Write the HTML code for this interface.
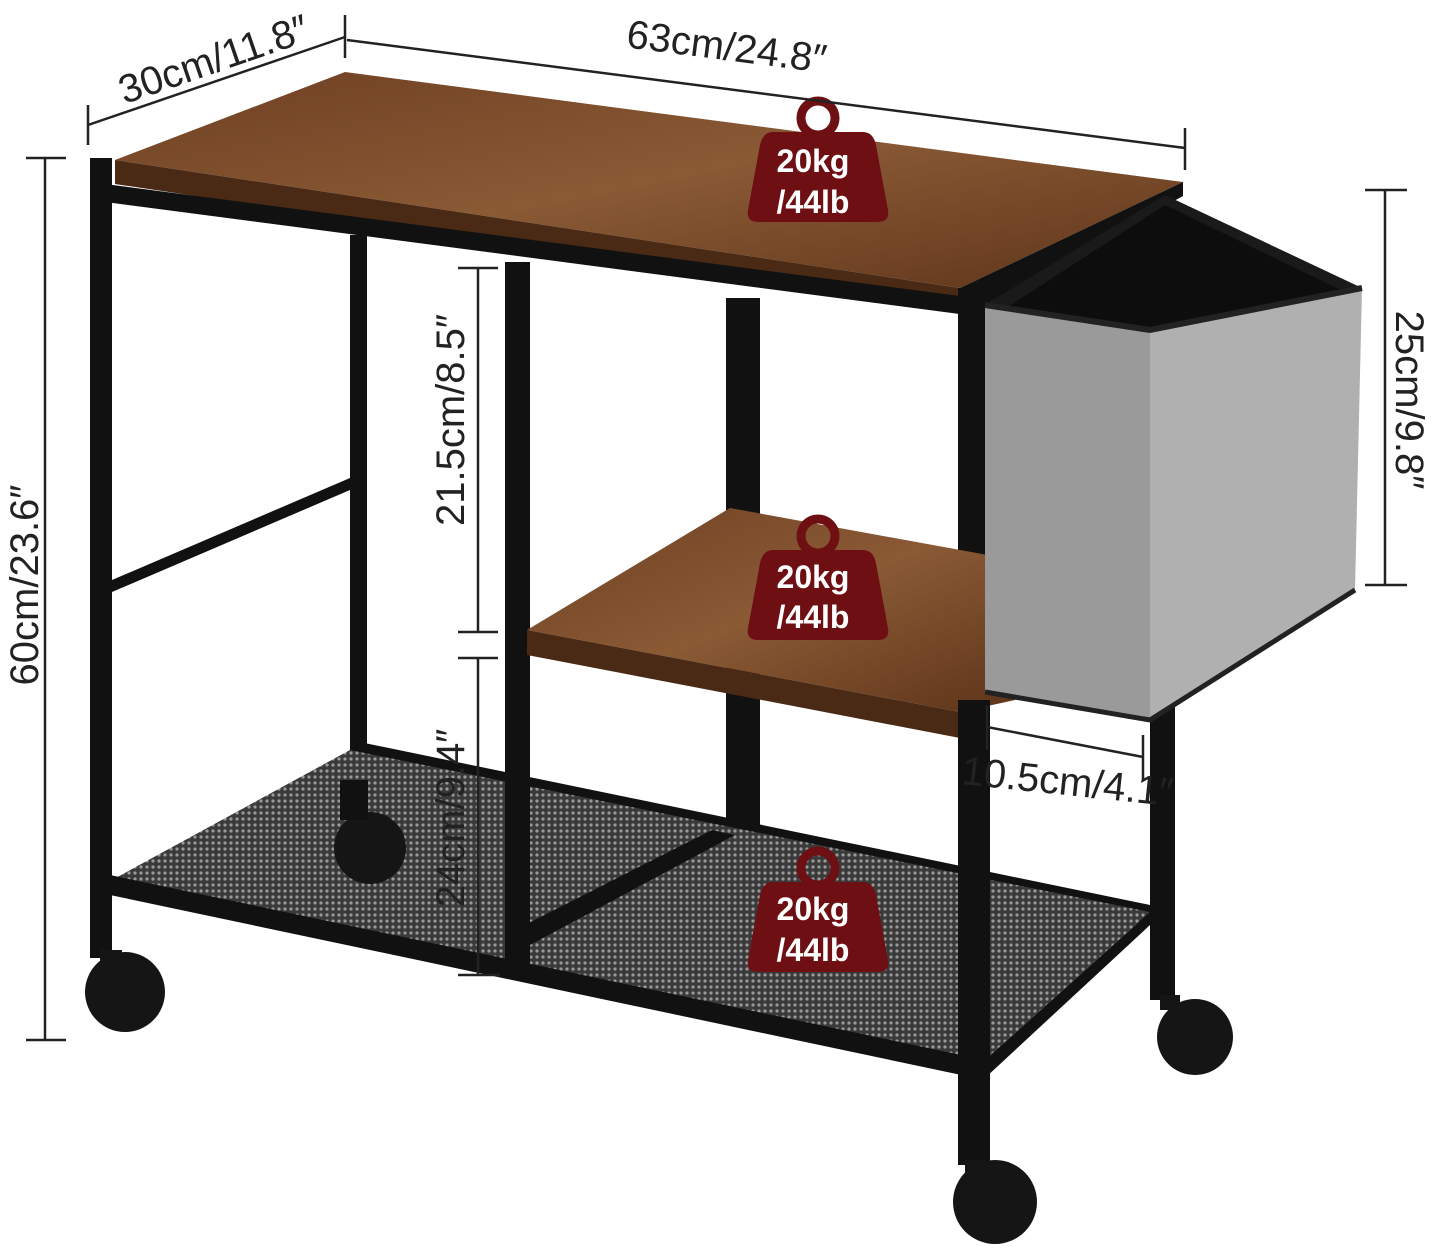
<!DOCTYPE html>
<html><head><meta charset="utf-8"><style>
html,body{margin:0;padding:0;background:#fff}
svg{display:block}
text{font-family:"Liberation Sans",sans-serif}
</style></head><body>
<svg width="1432" height="1257" viewBox="0 0 1432 1257" xmlns="http://www.w3.org/2000/svg">
<defs>
<linearGradient id="wood" x1="0" y1="0" x2="1" y2="1">
<stop offset="0" stop-color="#6e3f22"/><stop offset=".5" stop-color="#8a5a35"/><stop offset="1" stop-color="#5e3419"/>
</linearGradient>
<pattern id="mesh" width="6" height="6" patternUnits="userSpaceOnUse">
<rect width="6" height="6" fill="#3a3a3a"/><circle cx="3" cy="3" r="1.6" fill="#9a9a9a"/>
</pattern>
</defs>
<g fill="#111" stroke="none">
<rect x="350" y="235" width="17" height="570"/>
<rect x="726" y="298" width="34" height="535"/>
<rect x="1150" y="690" width="25" height="310"/>
<polygon points="350,740 1150,905 1150,925 350,760"/>
<polygon points="112,580 350,478 350,490 112,592"/>
</g>
<polygon points="112,880 350,750 1150,912 985,1060" fill="url(#mesh)"/>
<polygon points="505,935 712,830 735,835 530,945" fill="#111"/>
<circle cx="370" cy="848" r="36" fill="#151515"/><rect x="340" y="780" width="28" height="40" fill="#111"/>
<!-- top -->
<polygon points="115,160 345,72 1183,182 960,288" fill="url(#wood)"/>
<polygon points="115,160 960,288 960,310 115,184" fill="#4a2a15"/>
<g fill="#111">
<polygon points="90,182 990,300 990,318 90,200"/>
<polygon points="960,288 1183,182 1183,196 990,302"/>
<rect x="90" y="158" width="22" height="800"/>
<rect x="958" y="288" width="32" height="877"/>
<rect x="505" y="262" width="25" height="710"/>
<polygon points="110,875 985,1060 985,1080 110,895"/>
<polygon points="985,1060 1150,912 1150,925 985,1078"/>
</g>
<!-- middle shelf -->
<polygon points="527,630 730,508 1015,560 1015,700 960,712" fill="url(#wood)"/>
<polygon points="527,630 960,712 960,738 527,655" fill="#4a2a15"/>
<rect x="958" y="700" width="32" height="60" fill="#111"/>
<!-- basket -->
<polygon points="985,305 1165,195 1362,288 1150,332" fill="#1a1a1a"/>
<polygon points="1000,312 1165,205 1345,292 1150,338" fill="#0d0d0d"/>
<polygon points="985,305 1150,330 1150,720 985,692" fill="#9a9a9a"/>
<polygon points="1150,330 1362,288 1355,590 1150,720" fill="#b0b0b0"/>
<polyline points="985,305 1150,330 1362,288" fill="none" stroke="#222" stroke-width="6"/>
<polyline points="985,692 1150,720 1355,590" fill="none" stroke="#222" stroke-width="5"/>
<g fill="#151515">
<rect x="100" y="950" width="22" height="20"/>
<circle cx="125" cy="992" r="40"/>
<rect x="1160" y="995" width="20" height="15"/>
<circle cx="1195" cy="1037" r="38"/>
<rect x="965" y="1160" width="20" height="15"/>
<circle cx="995" cy="1202" r="42"/>
</g>
<g fill="#6e1013">
<g transform="translate(818,170)"><circle cx="0" cy="-52" r="17" fill="none" stroke="#6e1013" stroke-width="9"/><path d="M-45,-38 H45 Q55,-38 58,-25 L70,40 Q72,52 60,52 H-60 Q-72,52 -70,40 L-58,-25 Q-55,-38 -45,-38Z"/></g>
<g transform="translate(818,588)"><circle cx="0" cy="-52" r="17" fill="none" stroke="#6e1013" stroke-width="9"/><path d="M-45,-38 H45 Q55,-38 58,-25 L70,40 Q72,52 60,52 H-60 Q-72,52 -70,40 L-58,-25 Q-55,-38 -45,-38Z"/></g>
<g transform="translate(818,920)"><circle cx="0" cy="-52" r="17" fill="none" stroke="#6e1013" stroke-width="9"/><path d="M-45,-38 H45 Q55,-38 58,-25 L70,40 Q72,52 60,52 H-60 Q-72,52 -70,40 L-58,-25 Q-55,-38 -45,-38Z"/></g>
</g>
<g fill="#fff" font-size="32" font-weight="bold" text-anchor="middle">
<text x="813" y="172">20kg</text><text x="813" y="213">/44lb</text>
<text x="813" y="588">20kg</text><text x="813" y="628">/44lb</text>
<text x="813" y="920">20kg</text><text x="813" y="961">/44lb</text>
</g>
<g stroke="#222" stroke-width="2.5" fill="none">
<line x1="88" y1="125" x2="345" y2="37"/><line x1="88" y1="105" x2="88" y2="145"/><line x1="345" y1="15" x2="345" y2="58"/>
<line x1="347" y1="40" x2="1185" y2="148"/><line x1="1185" y1="128" x2="1185" y2="170"/>
<line x1="45" y1="158" x2="45" y2="1040"/><line x1="26" y1="158" x2="66" y2="158"/><line x1="26" y1="1040" x2="66" y2="1040"/>
<line x1="1385" y1="190" x2="1385" y2="585"/><line x1="1365" y1="190" x2="1407" y2="190"/><line x1="1365" y1="585" x2="1407" y2="585"/>
<line x1="478" y1="268" x2="478" y2="632"/><line x1="458" y1="268" x2="498" y2="268"/><line x1="458" y1="632" x2="498" y2="632"/>
<line x1="478" y1="658" x2="478" y2="975"/><line x1="458" y1="658" x2="498" y2="658"/><line x1="458" y1="975" x2="500" y2="975"/>
<line x1="987" y1="727" x2="1143" y2="757"/><line x1="987" y1="705" x2="987" y2="750"/><line x1="1143" y1="735" x2="1143" y2="780"/>
</g>
<g fill="#222" font-size="40" text-anchor="middle">
<text transform="translate(218,72) rotate(-19)">30cm/11.8″</text>
<text transform="translate(725,60) rotate(7.3)">63cm/24.8″</text>
<text transform="translate(38,585) rotate(-90)">60cm/23.6″</text>
<text transform="translate(1396,400) rotate(90)">25cm/9.8″</text>
<text transform="translate(464,420) rotate(-90)">21.5cm/8.5″</text>
<text transform="translate(464,818) rotate(-90)">24cm/9.4″</text>
<text transform="translate(1066,795) rotate(6)">10.5cm/4.1″</text>
</g>
</svg>
</body></html>
